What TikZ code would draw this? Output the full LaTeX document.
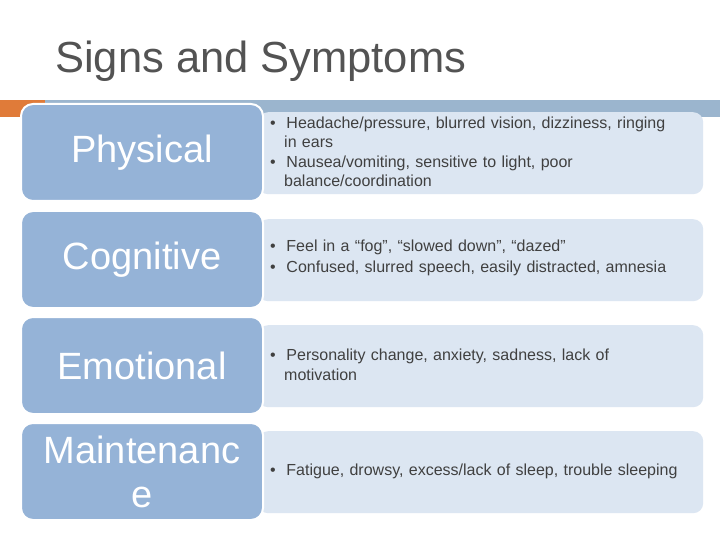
\documentclass[tikz,border=0pt]{standalone}
\usepackage{fontspec}
\setmainfont{Liberation Sans}
\begin{document}
\begin{tikzpicture}[x=1pt,y=-1pt,
  lbox/.style={draw=white,line width=2pt,fill=lblue,rounded corners=12pt,text=white,align=center,font=\fontsize{38}{40}\selectfont,inner sep=0pt},
  rbox/.style={fill=rblue,rounded corners=10pt,inner sep=0pt}]
\definecolor{lblue}{HTML}{95B3D7}
\definecolor{rblue}{HTML}{DCE6F2}
\definecolor{tgray}{HTML}{404040}
\definecolor{bar}{HTML}{9BB5CE}
\definecolor{orng}{HTML}{E07B39}
\useasboundingbox (0,0) rectangle (720,540);
\fill[white] (0,0) rectangle (720,540);
\node[anchor=base west,text=tgray!90,font=\fontsize{43.5}{44}\selectfont,inner sep=0pt] (title) at (55,73) {Signs and Symptoms};
\fill[orng] (0,100) rectangle (45,117);
\fill[bar] (45,100) rectangle (720,117);
\foreach \i/\y/\lab in {1/103/Physical,2/210/Cognitive,3/316/Emotional}{
  \node[rbox,minimum width=445pt,minimum height=82pt,anchor=north west] (r\i) at (258,\y+9) {};
  \node[lbox,minimum width=242pt,minimum height=97pt,anchor=north west] (l\i) at (20,\y) {\lab};
}
\node[rbox,minimum width=445pt,minimum height=82pt,anchor=north west] (r4) at (258,431) {};
\node[lbox,minimum width=242pt,minimum height=97pt,anchor=north west,font=\fontsize{38}{44}\selectfont] (l4) at (20,422) {Maintenanc\\e};
\begin{scope}[every node/.style={anchor=west,text=tgray,font=\fontsize{16}{19.5}\selectfont,text width=440pt,inner sep=0pt}]
\node (t1) at (270,152) {\textbullet\ \ Headache/pressure, blurred vision, dizziness, ringing\\\hspace*{14pt}in ears\\\textbullet\ \ Nausea/vomiting, sensitive to light, poor\\\hspace*{14pt}balance/coordination};
\node (t2) at (270,258) {\textbullet\ \ Feel in a “fog”, “slowed down”, “dazed”\\[1pt]\textbullet\ \ Confused, slurred speech, easily distracted, amnesia};
\node (t3) at (270,365) {\textbullet\ \ Personality change, anxiety, sadness, lack of\\\hspace*{14pt}motivation};
\node (t4) at (270,471) {\textbullet\ \ Fatigue, drowsy, excess/lack of sleep, trouble sleeping};
\end{scope}
\end{tikzpicture}
\end{document}
